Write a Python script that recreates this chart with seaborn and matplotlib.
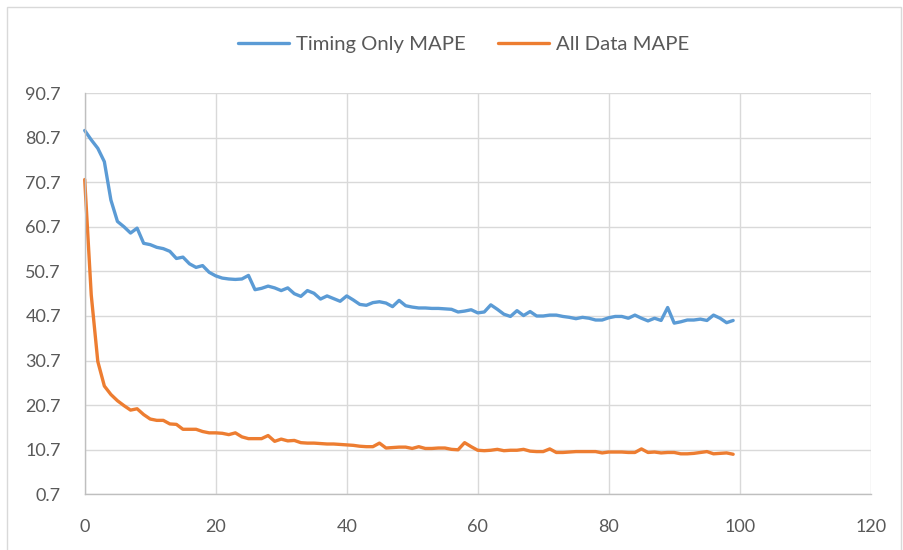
import numpy as np
import pandas as pd
import matplotlib
matplotlib.use("Agg")
import matplotlib.pyplot as plt
from matplotlib.patches import Rectangle
import seaborn as sns

# Training epochs and MAPE per epoch for the two feature sets
epochs = list(range(100))
timing_only_mape = [
    82.3, 80.2, 78.3, 75.3, 66.7, 61.9, 60.7, 59.3, 60.4, 57.0,
    56.7, 56.1, 55.8, 55.2, 53.6, 53.9, 52.4, 51.6, 52.0, 50.5,
    49.7, 49.2, 49.0, 48.9, 49.0, 49.8, 46.6, 46.9, 47.4, 47.0,
    46.4, 47.0, 45.7, 45.1, 46.4, 45.8, 44.5, 45.2, 44.6, 44.0,
    45.2, 44.3, 43.3, 43.1, 43.7, 43.9, 43.6, 42.8, 44.2, 43.0,
    42.7, 42.5, 42.5, 42.4, 42.4, 42.3, 42.2, 41.6, 41.8, 42.1,
    41.4, 41.6, 43.2, 42.2, 41.1, 40.6, 41.9, 40.8, 41.7, 40.7,
    40.7, 40.9, 40.9, 40.6, 40.4, 40.1, 40.4, 40.2, 39.8, 39.8,
    40.3, 40.6, 40.6, 40.2, 40.9, 40.2, 39.6, 40.2, 39.7, 42.6,
    39.1, 39.4, 39.8, 39.8, 40.0, 39.7, 40.9, 40.2, 39.2, 39.7,
]
all_data_mape = [
    71.3, 45.4, 30.5, 25.0, 23.1, 21.7, 20.6, 19.6, 19.9, 18.6,
    17.6, 17.3, 17.3, 16.5, 16.4, 15.3, 15.3, 15.3, 14.8, 14.5,
    14.5, 14.4, 14.1, 14.5, 13.6, 13.2, 13.2, 13.2, 13.9, 12.6,
    13.1, 12.7, 12.8, 12.3, 12.2, 12.2, 12.1, 12.0, 12.0, 11.9,
    11.8, 11.7, 11.5, 11.4, 11.4, 12.2, 11.1, 11.2, 11.3, 11.3,
    11.0, 11.4, 11.0, 11.0, 11.1, 11.1, 10.8, 10.7, 12.3, 11.4,
    10.6, 10.5, 10.6, 10.8, 10.5, 10.6, 10.6, 10.8, 10.4, 10.3,
    10.3, 10.9, 10.1, 10.1, 10.2, 10.3, 10.3, 10.3, 10.3, 10.0,
    10.2, 10.2, 10.2, 10.1, 10.1, 10.9, 10.1, 10.2, 10.0, 10.1,
    10.1, 9.8, 9.8, 9.9, 10.1, 10.3, 9.8, 9.9, 10.0, 9.7,
]
series_names = ["Timing Only MAPE", "All Data MAPE"]
series_colors = ["#5B9BD5", "#ED7D31"]
x_ticks = [0, 20, 40, 60, 80, 100, 120]
y_ticks = [0.7, 10.7, 20.7, 30.7, 40.7, 50.7, 60.7, 70.7, 80.7, 90.7]

df = pd.DataFrame({
    "epoch": epochs * 2,
    "mape": timing_only_mape + all_data_mape,
    "series": [series_names[0]] * len(epochs) + [series_names[1]] * len(epochs),
})

sns.set_theme(style="white")
plt.rcParams["font.family"] = ["Lato", "DejaVu Sans"]
text_color = "#595959"

fig = plt.figure(figsize=(9.04, 5.5), dpi=100)
ax = fig.add_axes([84.7 / 904, 1 - 494.4 / 550, (870.7 - 84.7) / 904, (494.4 - 93) / 550])

sns.lineplot(data=df, x="epoch", y="mape", hue="series", hue_order=series_names,
             palette=series_colors, linewidth=2.4, ax=ax, legend=False,
             clip_on=False, solid_capstyle="round")

ax.set_xlim(0, 120)
ax.set_ylim(0.7, 90.7)
ax.set_xticks(x_ticks)
ax.set_yticks(y_ticks)
ax.set_xticklabels([str(v) for v in x_ticks])
ax.set_yticklabels([f"{v:.1f}" for v in y_ticks])
ax.tick_params(axis="both", length=0, labelsize=13, colors=text_color)
ax.tick_params(axis="x", pad=18)
ax.tick_params(axis="y", pad=17)
ax.set_xlabel("")
ax.set_ylabel("")

ax.grid(True, color="#d9d9d9", linewidth=1.0)
ax.set_axisbelow(True)
for side in ["top", "right"]:
    ax.spines[side].set_visible(False)
for side in ["left", "bottom"]:
    ax.spines[side].set_color("#bfbfbf")
    ax.spines[side].set_linewidth(1.0)

# Legend row across the top of the chart
handles = [plt.Line2D([], [], color=c, linewidth=2.4) for c in series_colors]
fig.legend(handles, series_names, loc="center", ncol=2, frameon=False,
           bbox_to_anchor=(464 / 904, 1 - 44 / 550), fontsize=14.6,
           labelcolor=text_color, handlelength=2.5, handletextpad=0.35,
           columnspacing=1.6)

# Chart-area border
fig.patches.append(Rectangle((7 / 904, -0.01), (901 - 7) / 904, 1 - 7 / 550 + 0.01,
                             transform=fig.transFigure, fill=False,
                             edgecolor="#d9d9d9", linewidth=1.0))

fig.savefig("out.png", dpi=100)
